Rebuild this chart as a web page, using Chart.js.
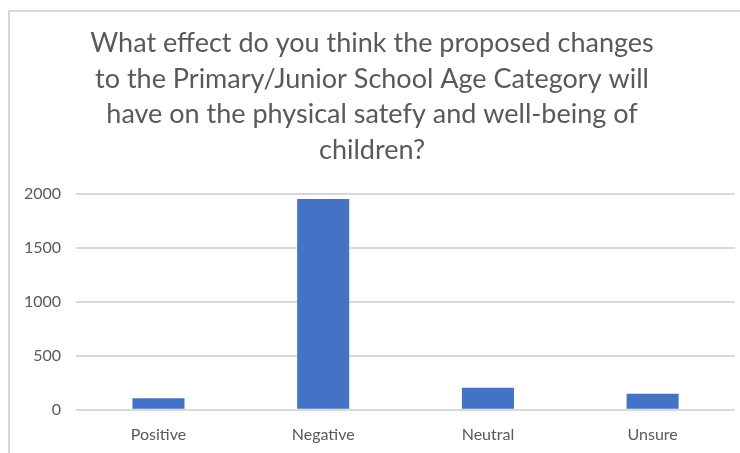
<!DOCTYPE html>
<html>
<head>
<meta charset="utf-8">
<script src="https://cdn.jsdelivr.net/npm/chart.js@4/dist/chart.umd.min.js"></script>
<style>
  html, body { margin: 0; padding: 0; background: #fff; }
  #wrap { position: relative; width: 740px; height: 453px; overflow: hidden; }
  #frame { position: absolute; left: 8px; top: 10px; width: 760px; height: 460px;
           border-left: 2px solid #d9d9d9; border-top: 2px solid #d9d9d9; box-sizing: border-box; }
  canvas { position: absolute; left: 0; top: 0; }
</style>
</head>
<body>
<div id="wrap">
  <div id="frame"></div>
  <canvas id="barChart" width="740" height="459"></canvas>
</div>
<script>
var categories = ['Positive', 'Negative', 'Neutral', 'Unsure'];
var responses  = [108, 1951, 204, 149];
var yTicks     = [0, 500, 1000, 1500, 2000];
var titleLines = [
	'What effect do you think the proposed changes',
	'to the Primary/Junior School Age Category will',
	'have on the physical satefy and well-being of',
	'children?'
];

var textColor = '#595959';
var gridColor = '#d9d9d9';

var ctx = document.getElementById('barChart').getContext('2d');
var barChart = new Chart(ctx, {
	type: 'bar',
	data: {
		labels: categories,
		datasets: [{
			label: 'Responses',
			data: responses,
			backgroundColor: '#4472c4',
			borderWidth: 0,
			categoryPercentage: 1,
			barPercentage: 0.316
		}]
	},
	options: {
		responsive: false,
		animation: false,
		layout: { padding: { left: 9, right: 5, top: 0, bottom: 0 } },
		plugins: {
			legend: { display: false },
			tooltip: { enabled: false },
			title: {
				display: true,
				text: titleLines,
				color: textColor,
				font: { family: 'Lato', size: 27, weight: 'normal', lineHeight: 1.33 },
				padding: { top: 25, bottom: 25 }
			}
		},
		scales: {
			x: {
				grid: { display: false, drawTicks: false },
				border: { display: false },
				ticks: { color: textColor, font: { family: 'Lato', size: 16 }, padding: 15 }
			},
			y: {
				min: yTicks[0],
				max: yTicks[yTicks.length - 1],
				afterBuildTicks: function(axis){
					axis.ticks = yTicks.map(function(v){ return { value: v }; });
				},
				grid: { color: gridColor, lineWidth: 2, drawTicks: false },
				border: { display: false },
				ticks: {
					color: textColor,
					font: { family: 'Lato', size: 16 },
					padding: 15,
					callback: function(v){ return String(v); }
				}
			}
		}
	}
});
</script>
</body>
</html>
